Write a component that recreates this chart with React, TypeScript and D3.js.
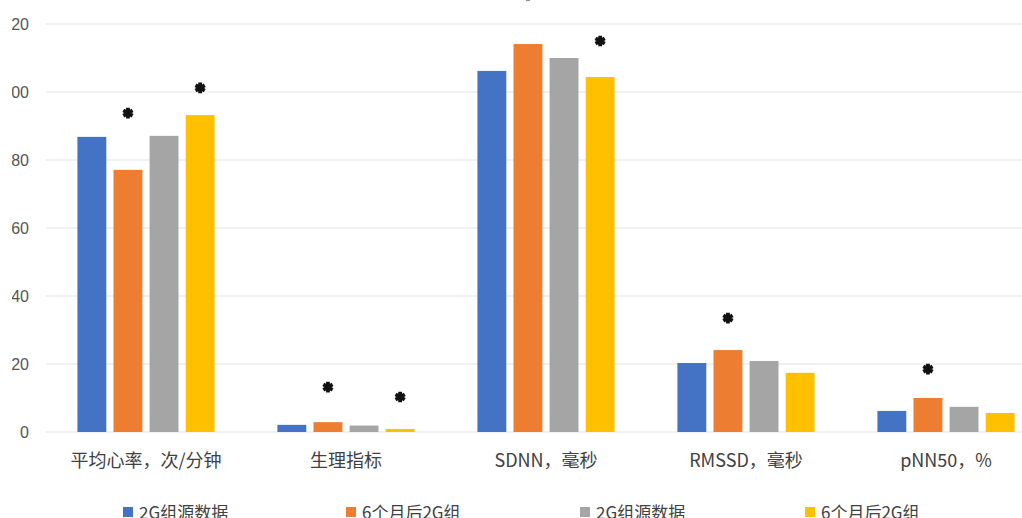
import React from "react";
import * as d3 from "d3";

const categories = ["平均心率，次/分钟", "生理指标", "SDNN，毫秒", "RMSSD，毫秒", "pNN50，%"];
const seriesNames = ["2G组源数据", "6个月后2G组", "2G组源数据", "6个月后2G组"];
const seriesColors = ["#4472C4", "#ED7D31", "#A5A5A5", "#FFC000"];
const seriesA = [86.8, 2.1, 106.2, 20.3, 6.2];
const seriesB = [77.1, 2.9, 114.1, 24.1, 10.0];
const seriesC = [87.1, 1.9, 110.0, 20.9, 7.4];
const seriesD = [93.2, 0.9, 104.4, 17.4, 5.6];
const yTicks = [0, 20, 40, 60, 80, 100, 120];
// significance stars: [category index, series index, star level value]
const stars: [number, number, number][] = [
  [0, 1, 93.8],
  [0, 3, 101.2],
  [1, 1, 13.2],
  [1, 3, 10.3],
  [2, 1, 128.5],
  [2, 3, 115.0],
  [3, 1, 33.5],
  [4, 1, 18.5],
];

const W = 1022;
const H = 518;

export default function App() {
  const series = [seriesA, seriesB, seriesC, seriesD];
  const x0 = d3.scaleBand<number>().domain(d3.range(categories.length)).range([46, 1046]).padding(0);
  const x1 = d3
    .scaleBand<number>()
    .domain(d3.range(4))
    .range([0, x0.bandwidth()])
    .paddingInner(0.2)
    .paddingOuter(0.87);
  const y = d3.scaleLinear().domain([0, 120]).range([432, 24]);
  const star = d3.symbol().type(d3.symbolAsterisk).size(80)();
  const legendX = [123, 346, 580, 805];

  return (
    <svg
      width={W}
      height={H}
      style={{ position: "absolute", left: 0, top: 0, background: "#fff" }}
      fontFamily="'Noto Sans CJK SC', 'Noto Sans', sans-serif"
    >
      <defs>
        <clipPath id="tickclip">
          <rect x={12} y={0} width={40} height={H} />
        </clipPath>
      </defs>
      <rect x={0} y={0} width={W} height={H} fill="#fff" />
      {yTicks.map((t) => (
        <line key={"g" + t} x1={46} x2={1046} y1={y(t)} y2={y(t)} stroke="#e3e3e3" strokeWidth={1} />
      ))}
      <g clipPath="url(#tickclip)">
        {yTicks.map((t) => (
          <text
            key={"t" + t}
            x={29}
            y={y(t)}
            dy="0.36em"
            textAnchor="end"
            fontSize={16}
            fill="#555"
            fontFamily="'Liberation Sans', Arial, sans-serif"
          >
            {t}
          </text>
        ))}
      </g>
      {categories.map((c, ci) => (
        <g key={c} transform={`translate(${x0(ci)},0)`}>
          {series.map((s, si) => (
            <rect
              key={si}
              x={x1(si)}
              y={y(s[ci])}
              width={x1.bandwidth()}
              height={y(0) - y(s[ci])}
              fill={seriesColors[si]}
            />
          ))}
          <text
            x={x0.bandwidth() / 2}
            y={467}
            textAnchor="middle"
            fontSize={18}
            fill="#404040"
          >
            {c}
          </text>
        </g>
      ))}
      {stars.map(([ci, si, v], i) => (
        <path
          key={"s" + i}
          d={star!}
          transform={`translate(${(x0(ci) as number) + (x1(si) as number) + x1.bandwidth() / 2},${y(v)})`}
          fill="none"
          stroke="#111"
          strokeWidth={3.8}
        />
      ))}
      {seriesNames.map((n, i) => (
        <g key={"l" + i}>
          <rect x={legendX[i]} y={507} width={10} height={10} fill={seriesColors[i]} />
          <text x={legendX[i] + 16} y={519} fontSize={17} fill="#404040">
            {n}
          </text>
        </g>
      ))}
    </svg>
  );
}
